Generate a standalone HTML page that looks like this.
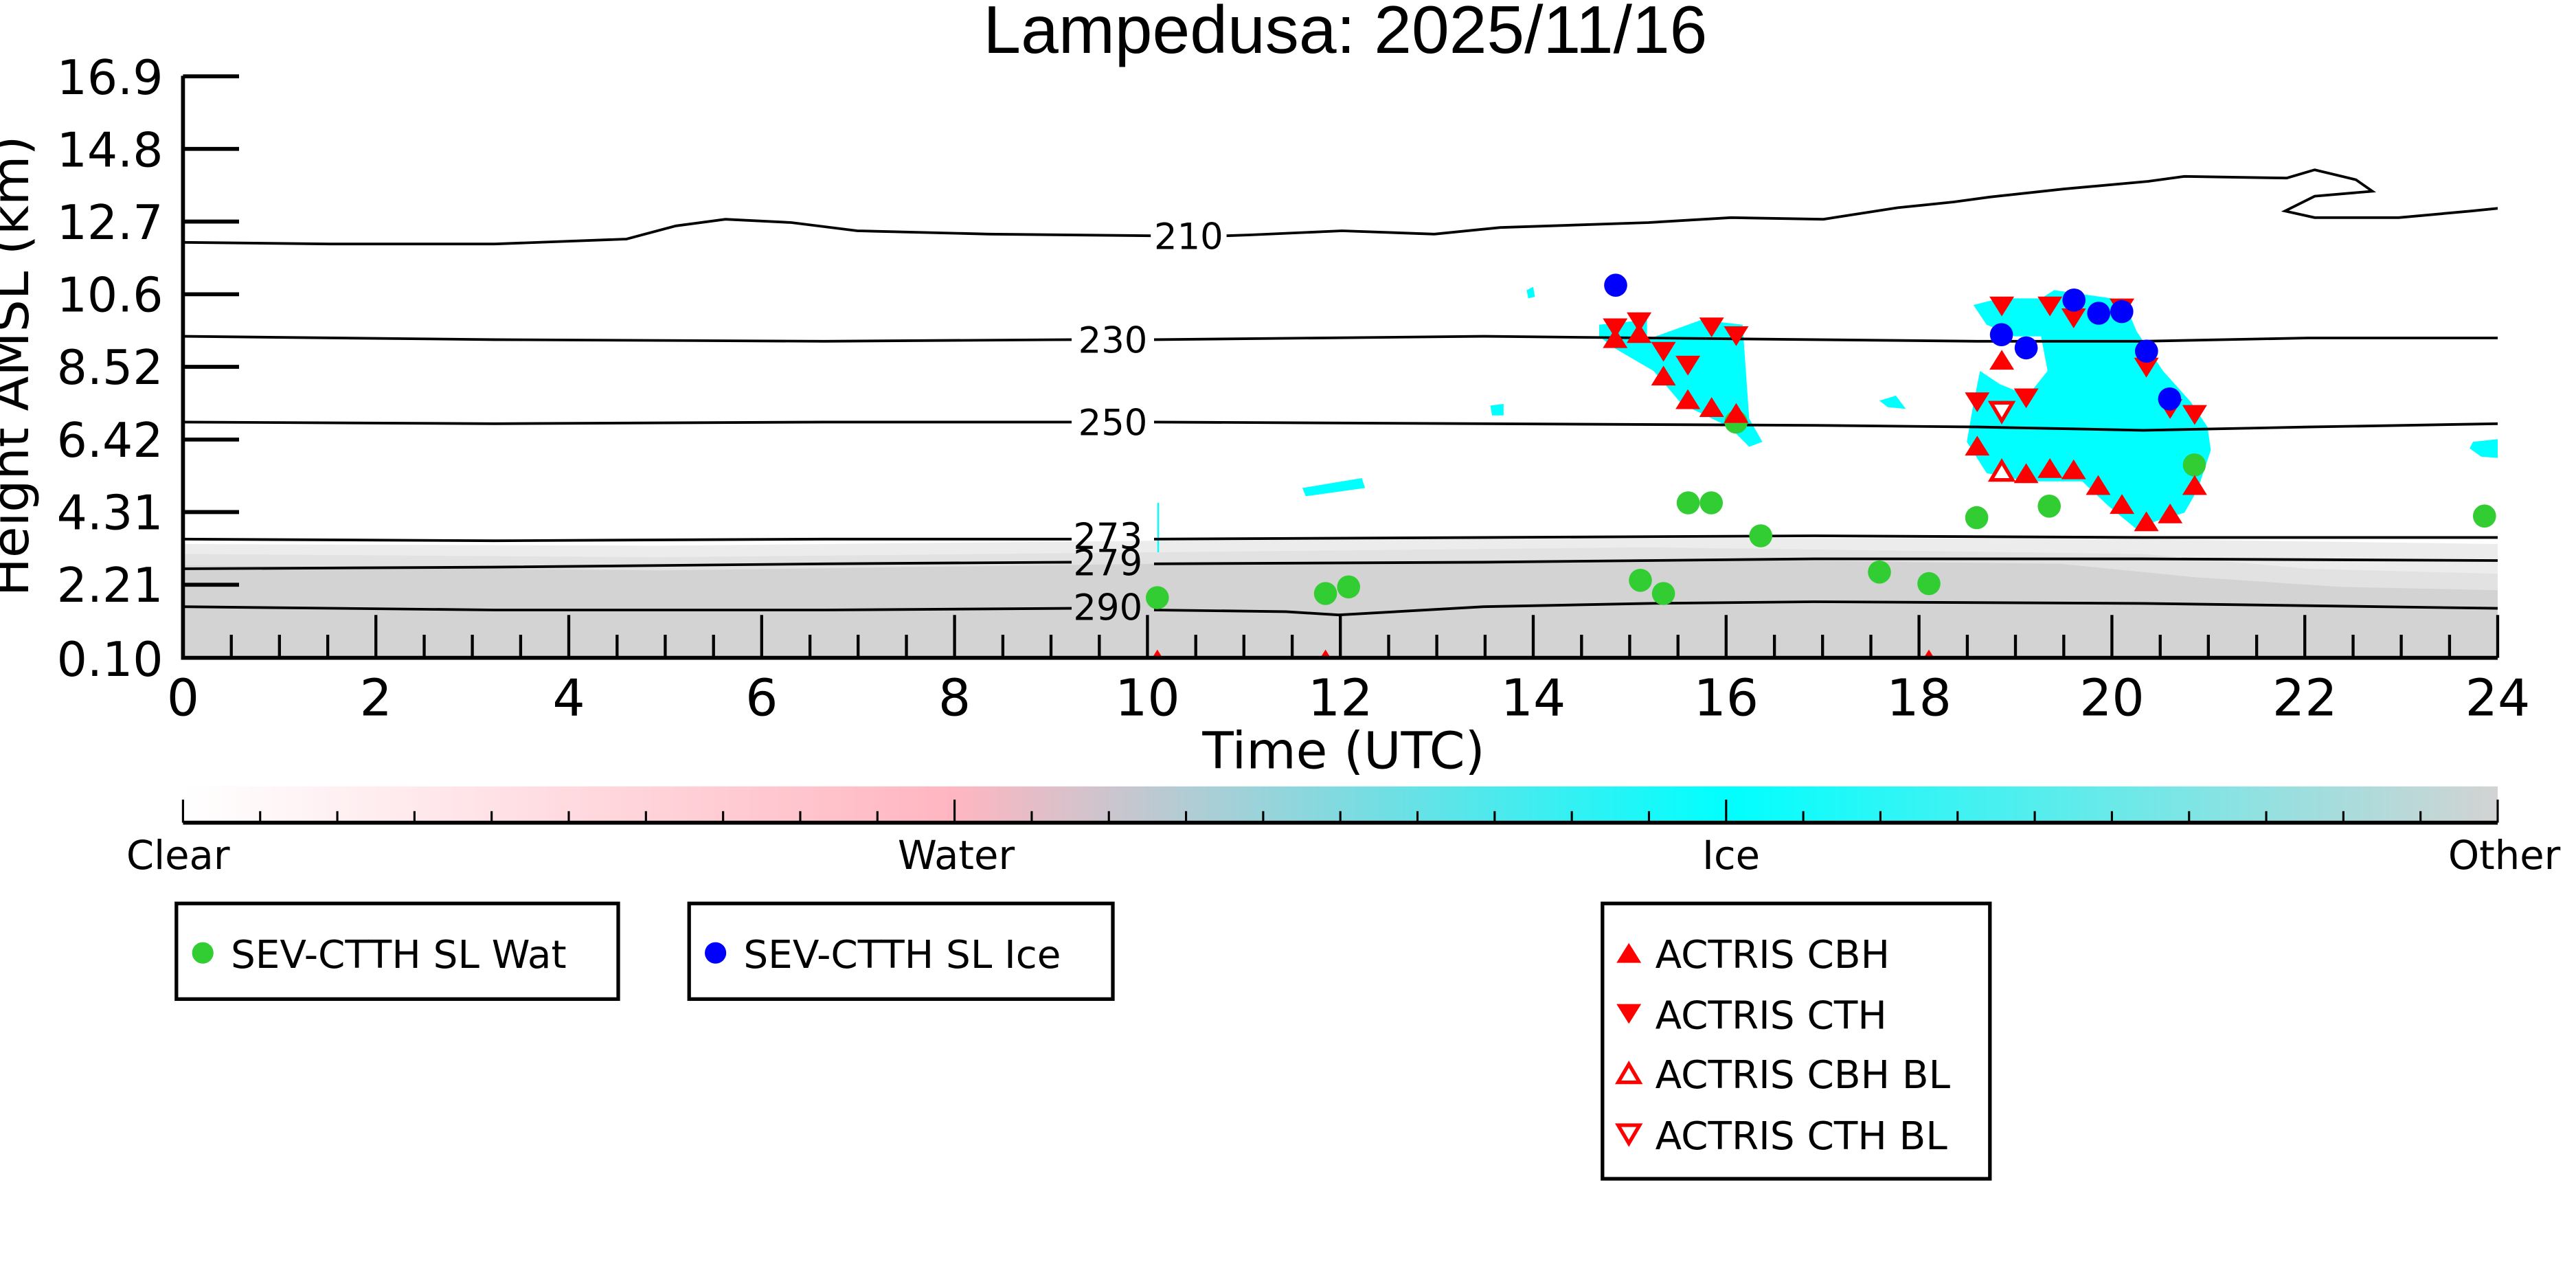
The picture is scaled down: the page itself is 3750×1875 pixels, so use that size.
<!DOCTYPE html>
<html><head><meta charset="utf-8"><style>
html,body{margin:0;padding:0;background:#fff;}
svg{display:block;}
text{font-family:"DejaVu Sans","Liberation Sans",sans-serif;}
</style></head><body>
<svg width="3750" height="1875" viewBox="0 0 1562.5 781.25" xmlns="http://www.w3.org/2000/svg">
<defs>
<path id="tu" d="M-7.5,6 L7.5,6 L0,-6Z" fill="#f00"/>
<path id="td" d="M-7.5,-6 L7.5,-6 L0,6Z" fill="#f00"/>
<path id="hu" d="M-6.5,5.5 L6.5,5.5 L0,-5.5Z" fill="#fff" stroke="#f00" stroke-width="2.2"/>
<path id="hd" d="M-6.5,-5.5 L6.5,-5.5 L0,5.5Z" fill="#fff" stroke="#f00" stroke-width="2.2"/>
<clipPath id="pc"><rect x="111" y="46" width="1404" height="353"/></clipPath>
<linearGradient id="cb" x1="0" x2="1" y1="0" y2="0">
<stop offset="0" stop-color="#ffffff"/>
<stop offset="0.333" stop-color="#ffb6c1"/>
<stop offset="0.667" stop-color="#00ffff"/>
<stop offset="1" stop-color="#d3d3d3"/>
</linearGradient>
</defs>

<text x="816" y="32" font-size="41" text-anchor="middle" style="font-family:'Liberation Sans',sans-serif">Lampedusa: 2025/11/16</text>

<g clip-path="url(#pc)">
<polygon fill="#ececec" points="111,330 400,331 700,328 1000,326 1300,327 1515,330 1515,400 111,400"/>
<polygon fill="#e2e2e2" points="111,336 400,338 700,335 1000,332 1300,336 1400,345 1515,348 1515,400 111,400"/>
<polygon fill="#d3d3d3" points="111,343 400,346 700,342 1000,339 1250,342 1330,350 1420,356 1515,358 1515,400 111,400"/>
<polygon fill="#00ffff" points="970,197 999,194 999,206 1032,194 1057,197 1061,254 1069,268 1061,271 1049,259 1020,245 1003,225 979,211 970,204"/>
<polygon fill="#00ffff" points="1197,185 1213,181 1238,181 1246,176 1288,182 1296,201 1312,225 1329,244 1339,259 1341,273 1333,297 1325,311 1308,316 1296,321 1279,307 1263,292 1230,292 1205,287 1193,268 1197,245 1201,225 1213,233 1230,240 1242,225 1238,204 1222,204 1205,197"/>
<polygon fill="#00ffff" points="1500,268 1518,266 1518,278 1505,277 1498,272"/>
<polygon fill="#00ffff" points="926,176 930,174 931,180 927,181"/>
<polygon fill="#00ffff" points="790,296 826,290 828,296 792,301"/>
<polygon fill="#00ffff" points="1140,243 1150,240 1156,248 1145,247"/>
<polygon fill="#00ffff" points="904,246 912,245 912,252 905,252"/>
<rect x="702" y="305" width="1" height="30" fill="#00ffff"/>
<g fill="none" stroke="#000" stroke-width="1.6">
<polyline points="111,147 200,148 300,148 380,145 410,137 440,133 480,135 520,140 600,142 698,143"/>
<polyline points="744,143 758,142.5 814,140 870,142 910,138 1000,135 1050,132 1106,133 1151,126 1185,122.5 1207,119.5 1252,114.6 1303,110 1325,107 1387,108 1404,103 1429,109 1439,116 1404,119 1386,128 1404,132 1455,132 1499,128 1519,126"/>
<polyline points="111,204 300,206 500,207 650,206"/>
<polyline points="700,206 900,204 1000,205 1200,207 1300,207 1400,205 1515,205"/>
<polyline points="111,256 300,257 500,256 650,256"/>
<polyline points="700,256 900,257 1100,258 1200,259 1300,261 1400,259 1515,257"/>
<polyline points="111,327 300,328 500,327 650,327"/>
<polyline points="700,327 900,326 1100,325 1300,326 1515,326"/>
<polyline points="111,345 300,344 500,342 650,341"/>
<polyline points="700,342 900,341 1100,339 1300,339 1515,340"/>
<polyline points="111,368 300,370 500,370 650,369"/>
<polyline points="700,370 780,371 812,373 900,368 1000,366 1100,365 1300,366 1515,369"/>
</g>
<g fill="#32cd32">
<circle cx="702" cy="362.5" r="7"/><circle cx="804" cy="360" r="7"/><circle cx="818" cy="356" r="7"/>
<circle cx="1053" cy="256" r="7"/><circle cx="1024" cy="305" r="7"/><circle cx="1038" cy="305" r="7"/>
<circle cx="1068" cy="325" r="7"/><circle cx="995" cy="352" r="7"/><circle cx="1009" cy="360" r="7"/>
<circle cx="1140" cy="347" r="7"/><circle cx="1170" cy="354" r="7"/><circle cx="1199" cy="314" r="7"/>
<circle cx="1243" cy="307" r="7"/><circle cx="1331" cy="282" r="7"/><circle cx="1507" cy="313" r="7"/>
</g>
<use href="#td" x="979.7" y="199.1"/><use href="#td" x="994.2" y="195.5"/><use href="#td" x="1009" y="213.4"/>
<use href="#td" x="1023.8" y="221.8"/><use href="#td" x="1038.2" y="198.6"/><use href="#td" x="1053.1" y="203.9"/>
<use href="#td" x="1214.2" y="185.9"/><use href="#td" x="1243.4" y="185.9"/><use href="#td" x="1257.8" y="193.1"/>
<use href="#td" x="1287.1" y="187.1"/><use href="#td" x="1199.3" y="244"/><use href="#td" x="1229" y="241.6"/>
<use href="#td" x="1301.9" y="223"/><use href="#td" x="1316.3" y="248.1"/><use href="#td" x="1331.2" y="251.7"/>
<use href="#tu" x="979.7" y="205.1"/><use href="#tu" x="994.2" y="202"/><use href="#tu" x="1009" y="227.8"/>
<use href="#tu" x="1023.8" y="242.1"/><use href="#tu" x="1038.2" y="246.9"/><use href="#tu" x="1053.1" y="250.5"/>
<use href="#tu" x="1214.2" y="218.2"/><use href="#tu" x="1199.3" y="270.3"/><use href="#tu" x="1229" y="287"/>
<use href="#tu" x="1243.4" y="283.9"/><use href="#tu" x="1257.8" y="284.7"/><use href="#tu" x="1272.7" y="294.2"/>
<use href="#tu" x="1287.1" y="305.7"/><use href="#tu" x="1301.9" y="316.2"/><use href="#tu" x="1316.3" y="311.4"/>
<use href="#tu" x="1331.2" y="294.2"/>
<use href="#tu" x="702" y="400"/><use href="#tu" x="804" y="400"/><use href="#tu" x="1170" y="400"/>
<use href="#hd" x="1214.2" y="249.8"/><use href="#hu" x="1214.2" y="285.6"/>
<g fill="#0000ff">
<circle cx="980" cy="173" r="7"/><circle cx="1214" cy="203" r="7"/><circle cx="1229" cy="211" r="7"/>
<circle cx="1258" cy="182" r="7"/><circle cx="1273" cy="190" r="7"/><circle cx="1287" cy="189" r="7"/>
<circle cx="1302" cy="213" r="7"/><circle cx="1316" cy="242" r="7"/>
</g>
</g>
<g font-size="22" text-anchor="middle" style="font-family:'Liberation Sans',sans-serif">
<text x="721" y="151">210</text>
<text x="675" y="214">230</text>
<text x="675" y="264">250</text>
<text x="672" y="333">273</text>
<text x="672" y="349">279</text>
<text x="672" y="376">290</text>
</g>

<g stroke="#000" stroke-width="2.4" fill="none">
<polyline points="111,46 111,399 1515,399"/>
<line x1="111" y1="46.3" x2="145" y2="46.3"/><line x1="111" y1="90.3" x2="145" y2="90.3"/>
<line x1="111" y1="134.4" x2="145" y2="134.4"/><line x1="111" y1="178.5" x2="145" y2="178.5"/>
<line x1="111" y1="222.5" x2="145" y2="222.5"/><line x1="111" y1="266.6" x2="145" y2="266.6"/>
<line x1="111" y1="310.6" x2="145" y2="310.6"/><line x1="111" y1="354.7" x2="145" y2="354.7"/>
</g>
<g stroke="#000" stroke-width="1.8">
<line x1="111" y1="399" x2="111" y2="373"/><line x1="140.3" y1="399" x2="140.3" y2="385"/><line x1="169.5" y1="399" x2="169.5" y2="385"/><line x1="198.8" y1="399" x2="198.8" y2="385"/>
<line x1="228" y1="399" x2="228" y2="373"/><line x1="257.3" y1="399" x2="257.3" y2="385"/><line x1="286.5" y1="399" x2="286.5" y2="385"/><line x1="315.8" y1="399" x2="315.8" y2="385"/>
<line x1="345" y1="399" x2="345" y2="373"/><line x1="374.3" y1="399" x2="374.3" y2="385"/><line x1="403.5" y1="399" x2="403.5" y2="385"/><line x1="432.8" y1="399" x2="432.8" y2="385"/>
<line x1="462" y1="399" x2="462" y2="373"/><line x1="491.3" y1="399" x2="491.3" y2="385"/><line x1="520.5" y1="399" x2="520.5" y2="385"/><line x1="549.8" y1="399" x2="549.8" y2="385"/>
<line x1="579" y1="399" x2="579" y2="373"/><line x1="608.3" y1="399" x2="608.3" y2="385"/><line x1="637.5" y1="399" x2="637.5" y2="385"/><line x1="666.8" y1="399" x2="666.8" y2="385"/>
<line x1="696" y1="399" x2="696" y2="373"/><line x1="725.3" y1="399" x2="725.3" y2="385"/><line x1="754.5" y1="399" x2="754.5" y2="385"/><line x1="783.8" y1="399" x2="783.8" y2="385"/>
<line x1="813" y1="399" x2="813" y2="373"/><line x1="842.3" y1="399" x2="842.3" y2="385"/><line x1="871.5" y1="399" x2="871.5" y2="385"/><line x1="900.8" y1="399" x2="900.8" y2="385"/>
<line x1="930" y1="399" x2="930" y2="373"/><line x1="959.3" y1="399" x2="959.3" y2="385"/><line x1="988.5" y1="399" x2="988.5" y2="385"/><line x1="1017.8" y1="399" x2="1017.8" y2="385"/>
<line x1="1047" y1="399" x2="1047" y2="373"/><line x1="1076.3" y1="399" x2="1076.3" y2="385"/><line x1="1105.5" y1="399" x2="1105.5" y2="385"/><line x1="1134.8" y1="399" x2="1134.8" y2="385"/>
<line x1="1164" y1="399" x2="1164" y2="373"/><line x1="1193.3" y1="399" x2="1193.3" y2="385"/><line x1="1222.5" y1="399" x2="1222.5" y2="385"/><line x1="1251.8" y1="399" x2="1251.8" y2="385"/>
<line x1="1281" y1="399" x2="1281" y2="373"/><line x1="1310.3" y1="399" x2="1310.3" y2="385"/><line x1="1339.5" y1="399" x2="1339.5" y2="385"/><line x1="1368.8" y1="399" x2="1368.8" y2="385"/>
<line x1="1398" y1="399" x2="1398" y2="373"/><line x1="1427.3" y1="399" x2="1427.3" y2="385"/><line x1="1456.5" y1="399" x2="1456.5" y2="385"/><line x1="1485.8" y1="399" x2="1485.8" y2="385"/>
<line x1="1515" y1="399" x2="1515" y2="373"/>
</g>
<g font-size="29" text-anchor="end">
<text x="99" y="57">16.9</text><text x="99" y="101">14.8</text><text x="99" y="145">12.7</text>
<text x="99" y="189">10.6</text><text x="99" y="233">8.52</text><text x="99" y="277">6.42</text>
<text x="99" y="321">4.31</text><text x="99" y="365">2.21</text><text x="99" y="410">0.10</text>
</g>
<g font-size="31" text-anchor="middle">
<text x="111" y="434">0</text><text x="228" y="434">2</text><text x="345" y="434">4</text><text x="462" y="434">6</text>
<text x="579" y="434">8</text><text x="696" y="434">10</text><text x="813" y="434">12</text><text x="930" y="434">14</text>
<text x="1047" y="434">16</text><text x="1164" y="434">18</text><text x="1281" y="434">20</text><text x="1398" y="434">22</text>
<text x="1515" y="434">24</text>
<text x="815" y="466">Time (UTC)</text>
<text transform="translate(17,222) rotate(-90)">Height AMSL (km)</text>
</g>

<rect x="111" y="477" width="1404" height="22" fill="url(#cb)"/>
<line x1="111" y1="499" x2="1515" y2="499" stroke="#000" stroke-width="2.4"/>
<g stroke="#000" stroke-width="1.3">
<line x1="111" y1="499" x2="111" y2="485"/><line x1="579" y1="499" x2="579" y2="485"/><line x1="1047" y1="499" x2="1047" y2="485"/><line x1="1515" y1="499" x2="1515" y2="485"/>
<line x1="157.8" y1="499" x2="157.8" y2="492"/><line x1="204.6" y1="499" x2="204.6" y2="492"/><line x1="251.4" y1="499" x2="251.4" y2="492"/><line x1="298.2" y1="499" x2="298.2" y2="492"/><line x1="345" y1="499" x2="345" y2="492"/><line x1="391.8" y1="499" x2="391.8" y2="492"/><line x1="438.6" y1="499" x2="438.6" y2="492"/><line x1="485.4" y1="499" x2="485.4" y2="492"/><line x1="532.2" y1="499" x2="532.2" y2="492"/>
<line x1="625.8" y1="499" x2="625.8" y2="492"/><line x1="672.6" y1="499" x2="672.6" y2="492"/><line x1="719.4" y1="499" x2="719.4" y2="492"/><line x1="766.2" y1="499" x2="766.2" y2="492"/><line x1="813" y1="499" x2="813" y2="492"/><line x1="859.8" y1="499" x2="859.8" y2="492"/><line x1="906.6" y1="499" x2="906.6" y2="492"/><line x1="953.4" y1="499" x2="953.4" y2="492"/><line x1="1000.2" y1="499" x2="1000.2" y2="492"/>
<line x1="1093.8" y1="499" x2="1093.8" y2="492"/><line x1="1140.6" y1="499" x2="1140.6" y2="492"/><line x1="1187.4" y1="499" x2="1187.4" y2="492"/><line x1="1234.2" y1="499" x2="1234.2" y2="492"/><line x1="1281" y1="499" x2="1281" y2="492"/><line x1="1327.8" y1="499" x2="1327.8" y2="492"/><line x1="1374.6" y1="499" x2="1374.6" y2="492"/><line x1="1421.4" y1="499" x2="1421.4" y2="492"/><line x1="1468.2" y1="499" x2="1468.2" y2="492"/>
</g>
<g font-size="24" text-anchor="middle">
<text x="108" y="527">Clear</text><text x="580" y="527">Water</text><text x="1050" y="527">Ice</text><text x="1519" y="527">Other</text>
</g>

<g fill="none" stroke="#000" stroke-width="2.2">
<rect x="107" y="548" width="268" height="58"/>
<rect x="418" y="548" width="257" height="58"/>
<rect x="972" y="548" width="235" height="167"/>
</g>
<circle cx="123" cy="578" r="6.5" fill="#32cd32"/>
<circle cx="434" cy="578" r="6.5" fill="#0000ff"/>
<use href="#tu" x="988" y="578"/><use href="#td" x="988" y="615"/>
<use href="#hu" x="988" y="651"/><use href="#hd" x="988" y="688"/>
<g font-size="23.5">
<text x="140" y="587">SEV-CTTH SL Wat</text>
<text x="451" y="587">SEV-CTTH SL Ice</text>
<text x="1004" y="587">ACTRIS CBH</text>
<text x="1004" y="624">ACTRIS CTH</text>
<text x="1004" y="660">ACTRIS CBH BL</text>
<text x="1004" y="697">ACTRIS CTH BL</text>
</g>
</svg>
</body></html>
